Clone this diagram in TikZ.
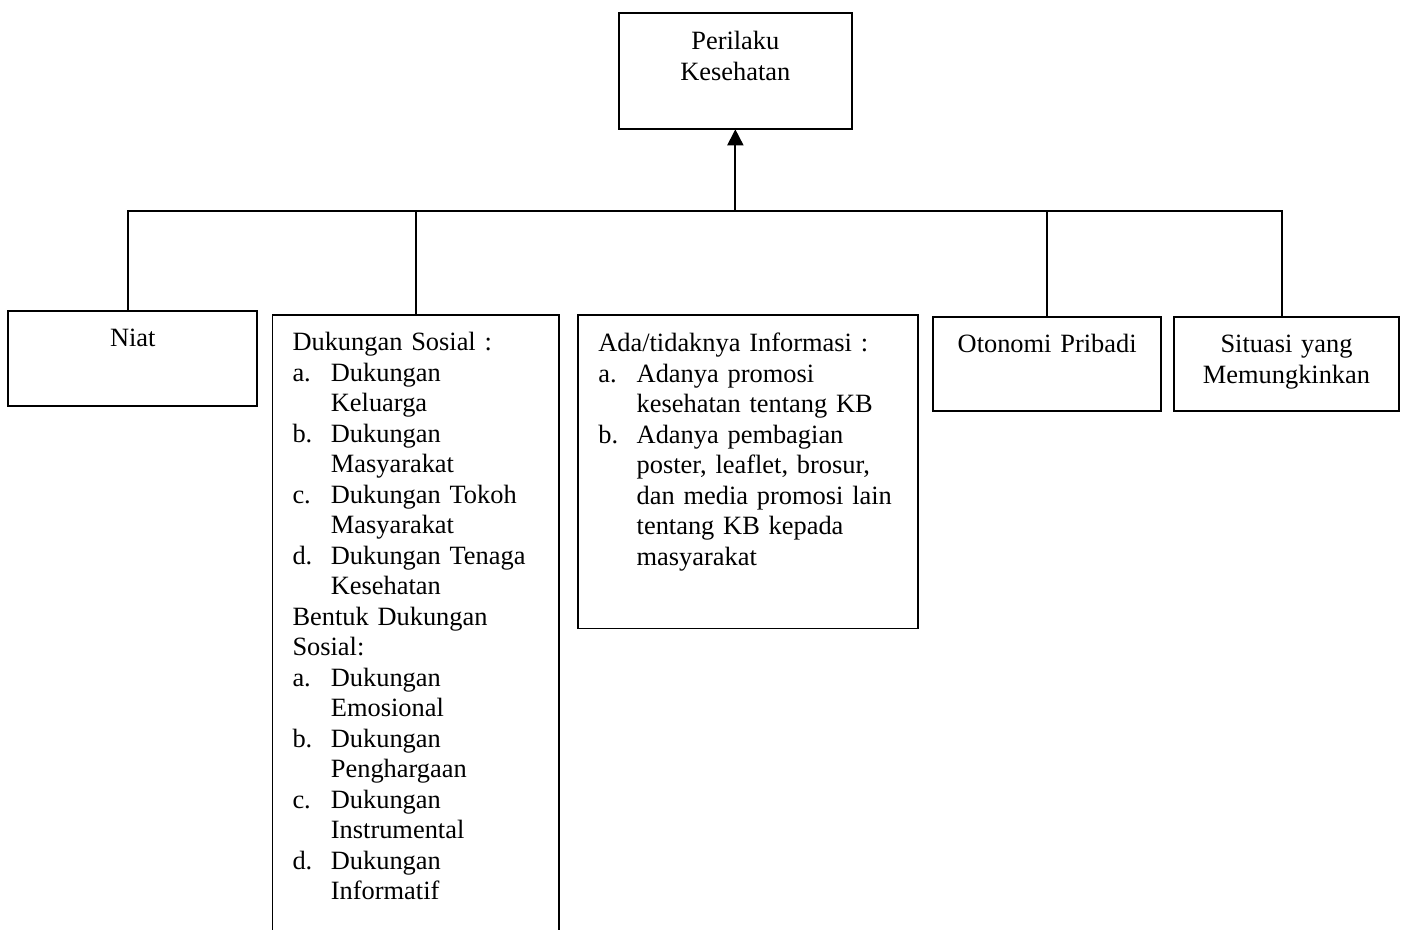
\documentclass[tikz,border=0pt]{standalone}
\usepackage{fontspec}
\setmainfont{Liberation Serif}
\usepackage{tikz}
\usetikzlibrary{arrows.meta}

\newcommand{\li}[2]{\mbox{\makebox[19.2pt][l]{#1}#2}}
\newcommand{\lc}[1]{\mbox{\hspace*{19.2pt}#1}}

\begin{document}
\begin{tikzpicture} [x=0.5pt, y=-0.5pt, line width=0.9pt,
        every node/.style={draw, line width=0.9pt, inner sep=0pt, outer sep=0pt, anchor=north west,
            font=\fontsize{13.2pt}{15.25pt}\selectfont},
        midbox/.style={align=center},
        listbox/.style={align=left, inner xsep=10pt}]
            \useasboundingbox (0,0) rectangle (1403,930);
            \clip (0,0) rectangle (1403,930);

            \node[midbox, text width=116.35pt, text height=18.35pt, text depth=39.65pt] (perilaku) at (619,13.3) {Perilaku\\Kesehatan};
            \node[midbox, text width=124.5pt, text height=18pt, text depth=29.65pt] (niat) at (8.3,310.7) {Niat};
            \node[listbox, text width=123.25pt, text height=18pt, text depth=297pt] (dukungan) at (272.5,315) {Dukungan Sosial :\\
                \li{a.}{Dukungan}\\ \lc{Keluarga}\\
                \li{b.}{Dukungan}\\ \lc{Masyarakat}\\
                \li{c.}{Dukungan Tokoh}\\ \lc{Masyarakat}\\
                \li{d.}{Dukungan Tenaga}\\ \lc{Kesehatan}\\
                Bentuk Dukungan\\ Sosial:\\
                \li{a.}{Dukungan}\\ \lc{Emosional}\\
                \li{b.}{Dukungan}\\ \lc{Penghargaan}\\
                \li{c.}{Dukungan}\\ \lc{Instrumental}\\
                \li{d.}{Dukungan}\\ \lc{Informatif}};
            \node[listbox, text width=149.7pt, text height=18.5pt, text depth=138.25pt] (info) at (578.3,315) {Ada/tidaknya Informasi :\\
                \li{a.}{Adanya promosi}\\ \lc{kesehatan tentang KB}\\
                \li{b.}{Adanya pembagian}\\ \lc{poster, leaflet, brosur,}\\
                \lc{dan media promosi lain}\\ \lc{tentang KB kepada}\\ \lc{masyarakat}};
            \node[midbox, text width=113.85pt, text height=18pt, text depth=29.15pt] (otonomi) at (933.3,316.7) {Otonomi Pribadi};
            \node[midbox, text width=112.5pt, text height=18pt, text depth=29.15pt] (situasi) at (1174,316.7) {Situasi yang\\Memungkinkan};

            \coordinate (bus) at (perilaku.south |- 0,211);
            \draw ([xshift=-2.4pt]niat.north) |- (bus) -| ([xshift=-2.2pt]situasi.north);
            \draw (dukungan.north) -- (dukungan.north |- bus);
            \draw (otonomi.north) -- (otonomi.north |- bus);
            \draw[-{Triangle[width=8pt,length=8pt]}] (bus) -- (perilaku.south);
        \end{tikzpicture}
\end{document}
